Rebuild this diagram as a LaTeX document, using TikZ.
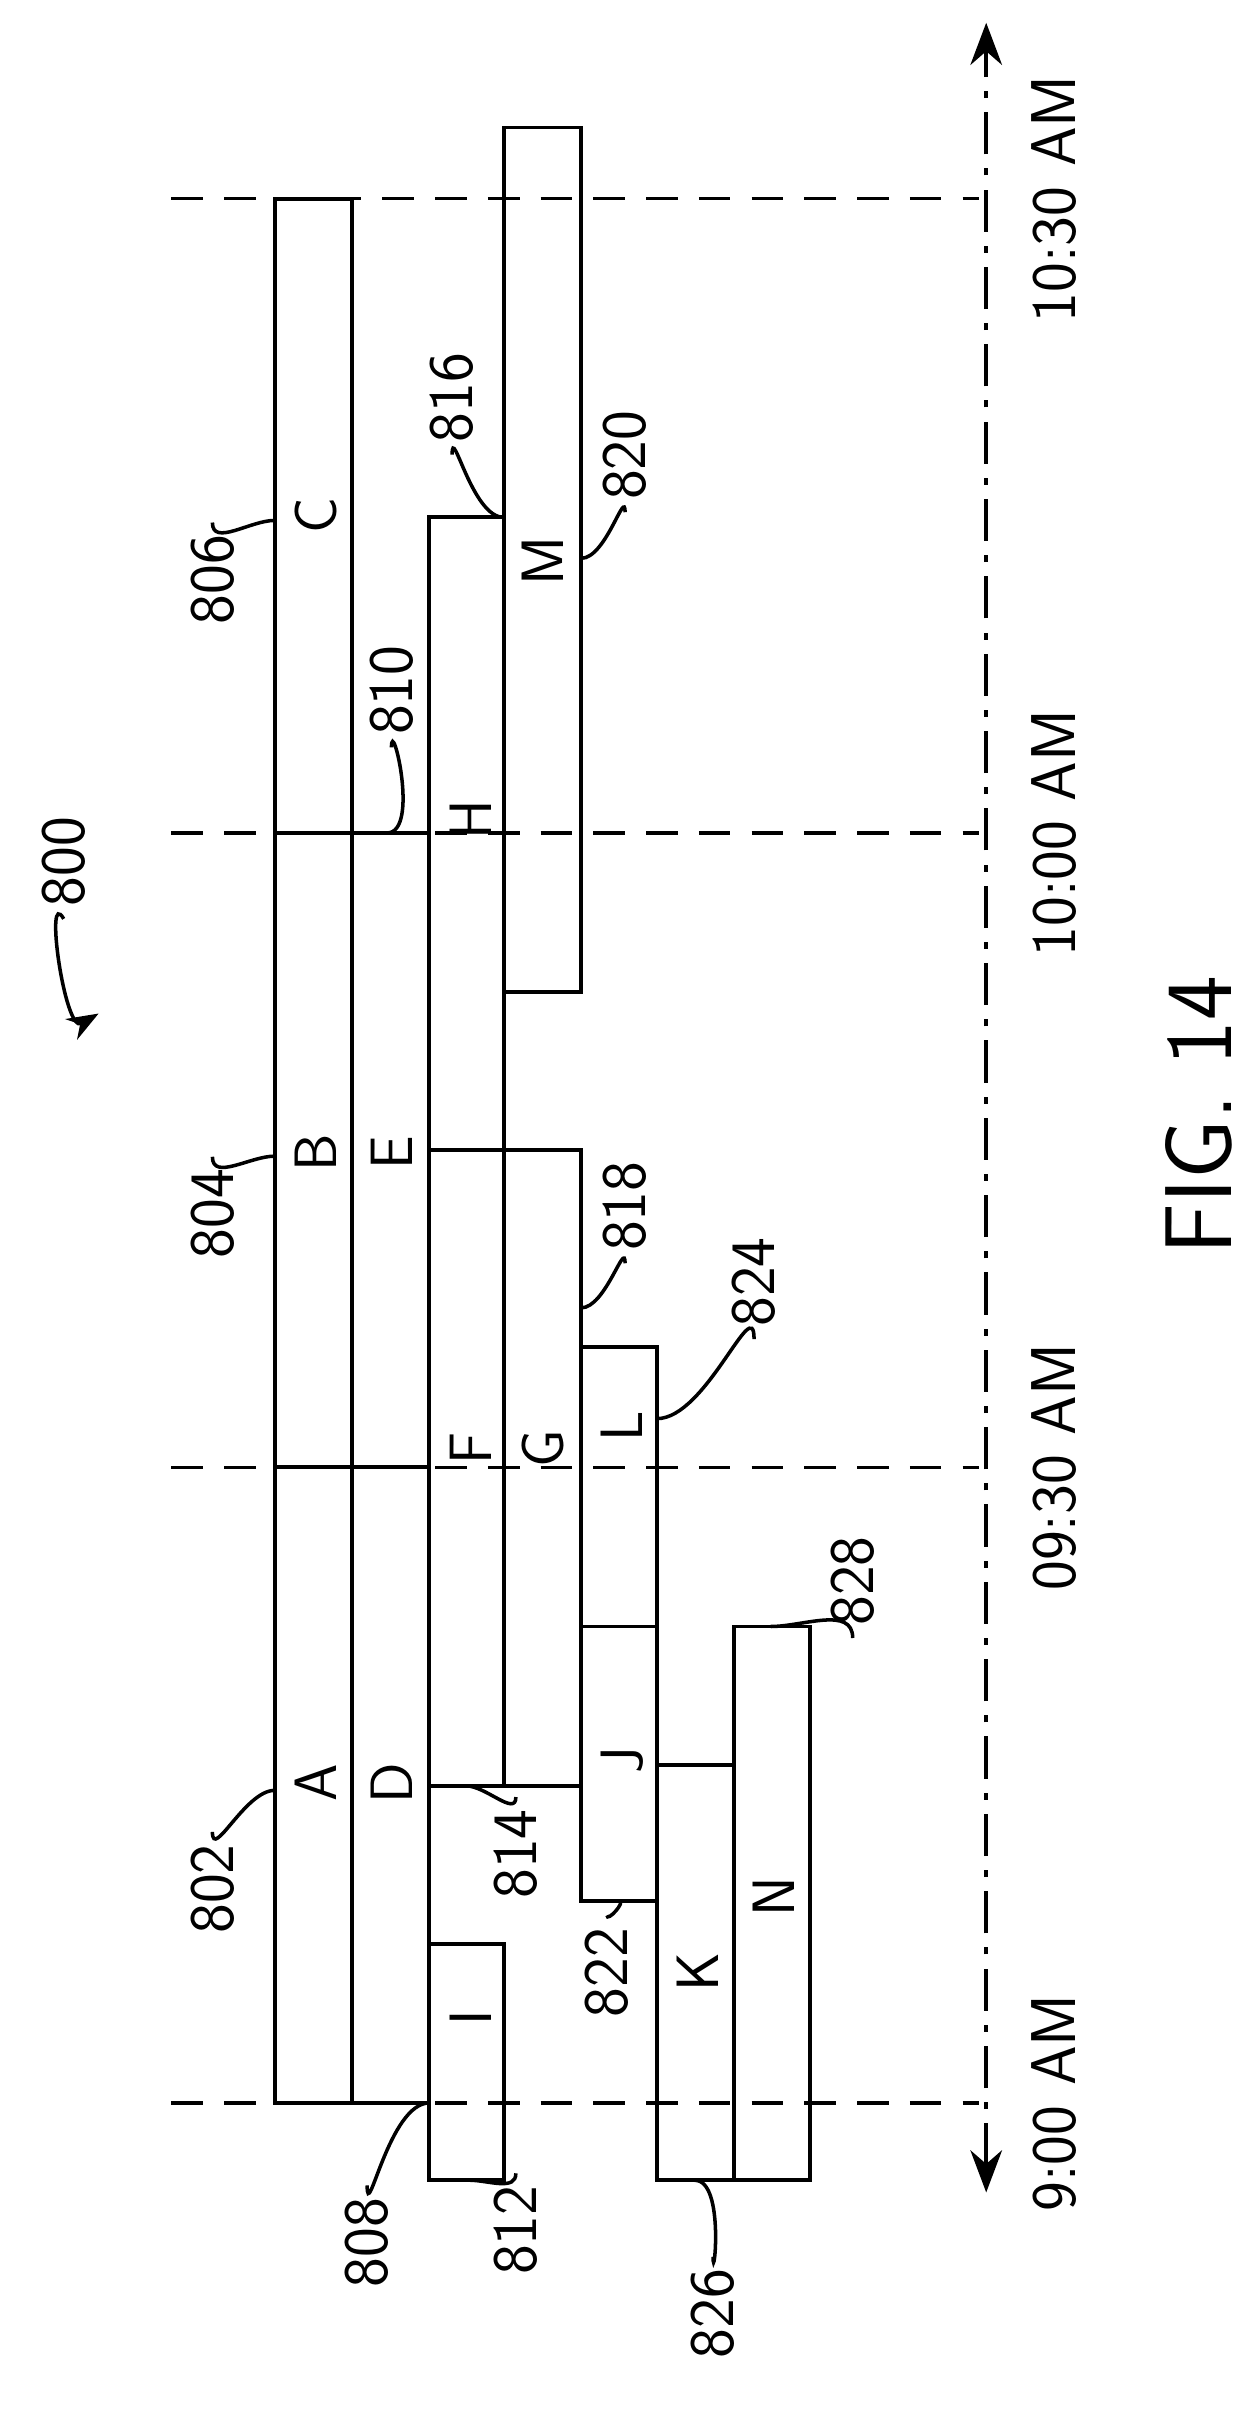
\documentclass[tikz,border=0pt]{standalone}
\usepackage{tikz}
\usetikzlibrary{arrows.meta}
\begin{document}
\begin{tikzpicture}[x=0.01517cm,y=-0.01517cm,
    bar/.style={draw, line width=1.1pt},
    tick/.style={dashed, line width=0.9pt, dash pattern=on 9pt off 6pt},
    lbl/.style={rotate=90, font=\fontsize{17}{20}\sffamily},
    num/.style={rotate=90, font=\fontsize{18}{20}\sffamily},
    lead/.style={line width=1pt}]
\useasboundingbox (0,0) rectangle (830,1595);

% time lines
\foreach \y/\t in {1386/9:00 AM, 967/09:30 AM, 549/10:00 AM, 131/10:30 AM}{
  \draw[tick] (113,\y) -- (645,\y);
  \node[num] at (695,\y) {\t};
}
\draw[line width=1pt, dash pattern=on 12pt off 4pt on 2pt off 4pt, {Stealth[length=12pt]}-{Stealth[length=12pt]}] (650,1445) -- (650,15);

% bars
\draw[bar] (181,131) rectangle (232,1386);
\draw[bar] (181,967) -- (283,967);
\draw[bar] (181,549) -- (283,549);
\draw[bar] (232,549) rectangle (283,1386);
\draw[bar] (283,1281) rectangle (332,1437);
\draw[bar] (283,341) rectangle (332,1177);
\draw[bar] (283,758) -- (383,758);
\draw[bar] (332,758) rectangle (383,1177);
\draw[bar] (332,84) rectangle (383,654);
\draw[bar] (383,888) rectangle (433,1253);
\draw[bar] (383,1072) -- (433,1072);
\draw[bar] (433,1163) rectangle (484,1437);
\draw[bar] (484,1072) rectangle (534,1437);

% letters
\foreach \x/\y/\l in {208/1175/A, 208/760/B, 208/340/C, 258/1175/D, 258/760/E,
  310/955/F, 358/955/G, 310/540/H, 310/1330/I, 410/1160/J, 460/1300/K,
  410/940/L, 358/370/M, 510/1250/N}
  \node[lbl] at (\x,\y) {\l};

% reference numerals
\node[num] (n802) at (140,1245) {802};
\node[num] (n804) at (140,800) {804};
\node[num] (n806) at (140,382) {806};
\node[num] (n808) at (242,1478) {808};
\node[num] (n810) at (258,455) {810};
\node[num] (n812) at (340,1470) {812};
\node[num] (n814) at (340,1222) {814};
\node[num] (n816) at (298,262) {816};
\node[num] (n818) at (412,795) {818};
\node[num] (n820) at (412,300) {820};
\node[num] (n822) at (400,1300) {822};
\node[num] (n824) at (497,845) {824};
\node[num] (n826) at (470,1525) {826};
\node[num] (n828) at (562,1042) {828};
\draw[lead] (n802.east) to[out=-90,in=180] (181,1180);
\draw[lead] (n804.east) to[out=-90,in=180] (181,762);
\draw[lead] (n806.east) to[out=-90,in=180] (181,343);
\draw[lead] (n808.east) to[out=-90,in=180] (283,1386);
\draw[lead] (n810.west) to[out=90,in=0] (255,549);
\draw[lead] (n812.east) to[out=-90,in=0] (310,1437);
\draw[lead] (n814.east) to[out=-90,in=0] (307,1177);
\draw[lead] (n816.west) to[out=90,in=180] (332,341);
\draw[lead] (n818.west) to[out=90,in=0] (383,862);
\draw[lead] (n820.west) to[out=90,in=0] (383,368);
\draw[lead] (n822.east) to[out=-90,in=0] (408,1253);
\draw[lead] (n824.west) to[out=90,in=0] (433,935);
\draw[lead] (n826.east) to[out=-90,in=0] (458,1437);
\draw[lead] (n828.west) to[out=90,in=0] (508,1072);

% figure label
\node[num] (n800) at (42,568) {800};
\draw[lead, -{Stealth[length=9pt]}] (n800.west) to[out=120,in=-150] (65,668);
\node[rotate=90, font=\fontsize{27}{30}\sffamily] (fig) at (790,735) {FIG. 14};
\end{tikzpicture}
\end{document}
